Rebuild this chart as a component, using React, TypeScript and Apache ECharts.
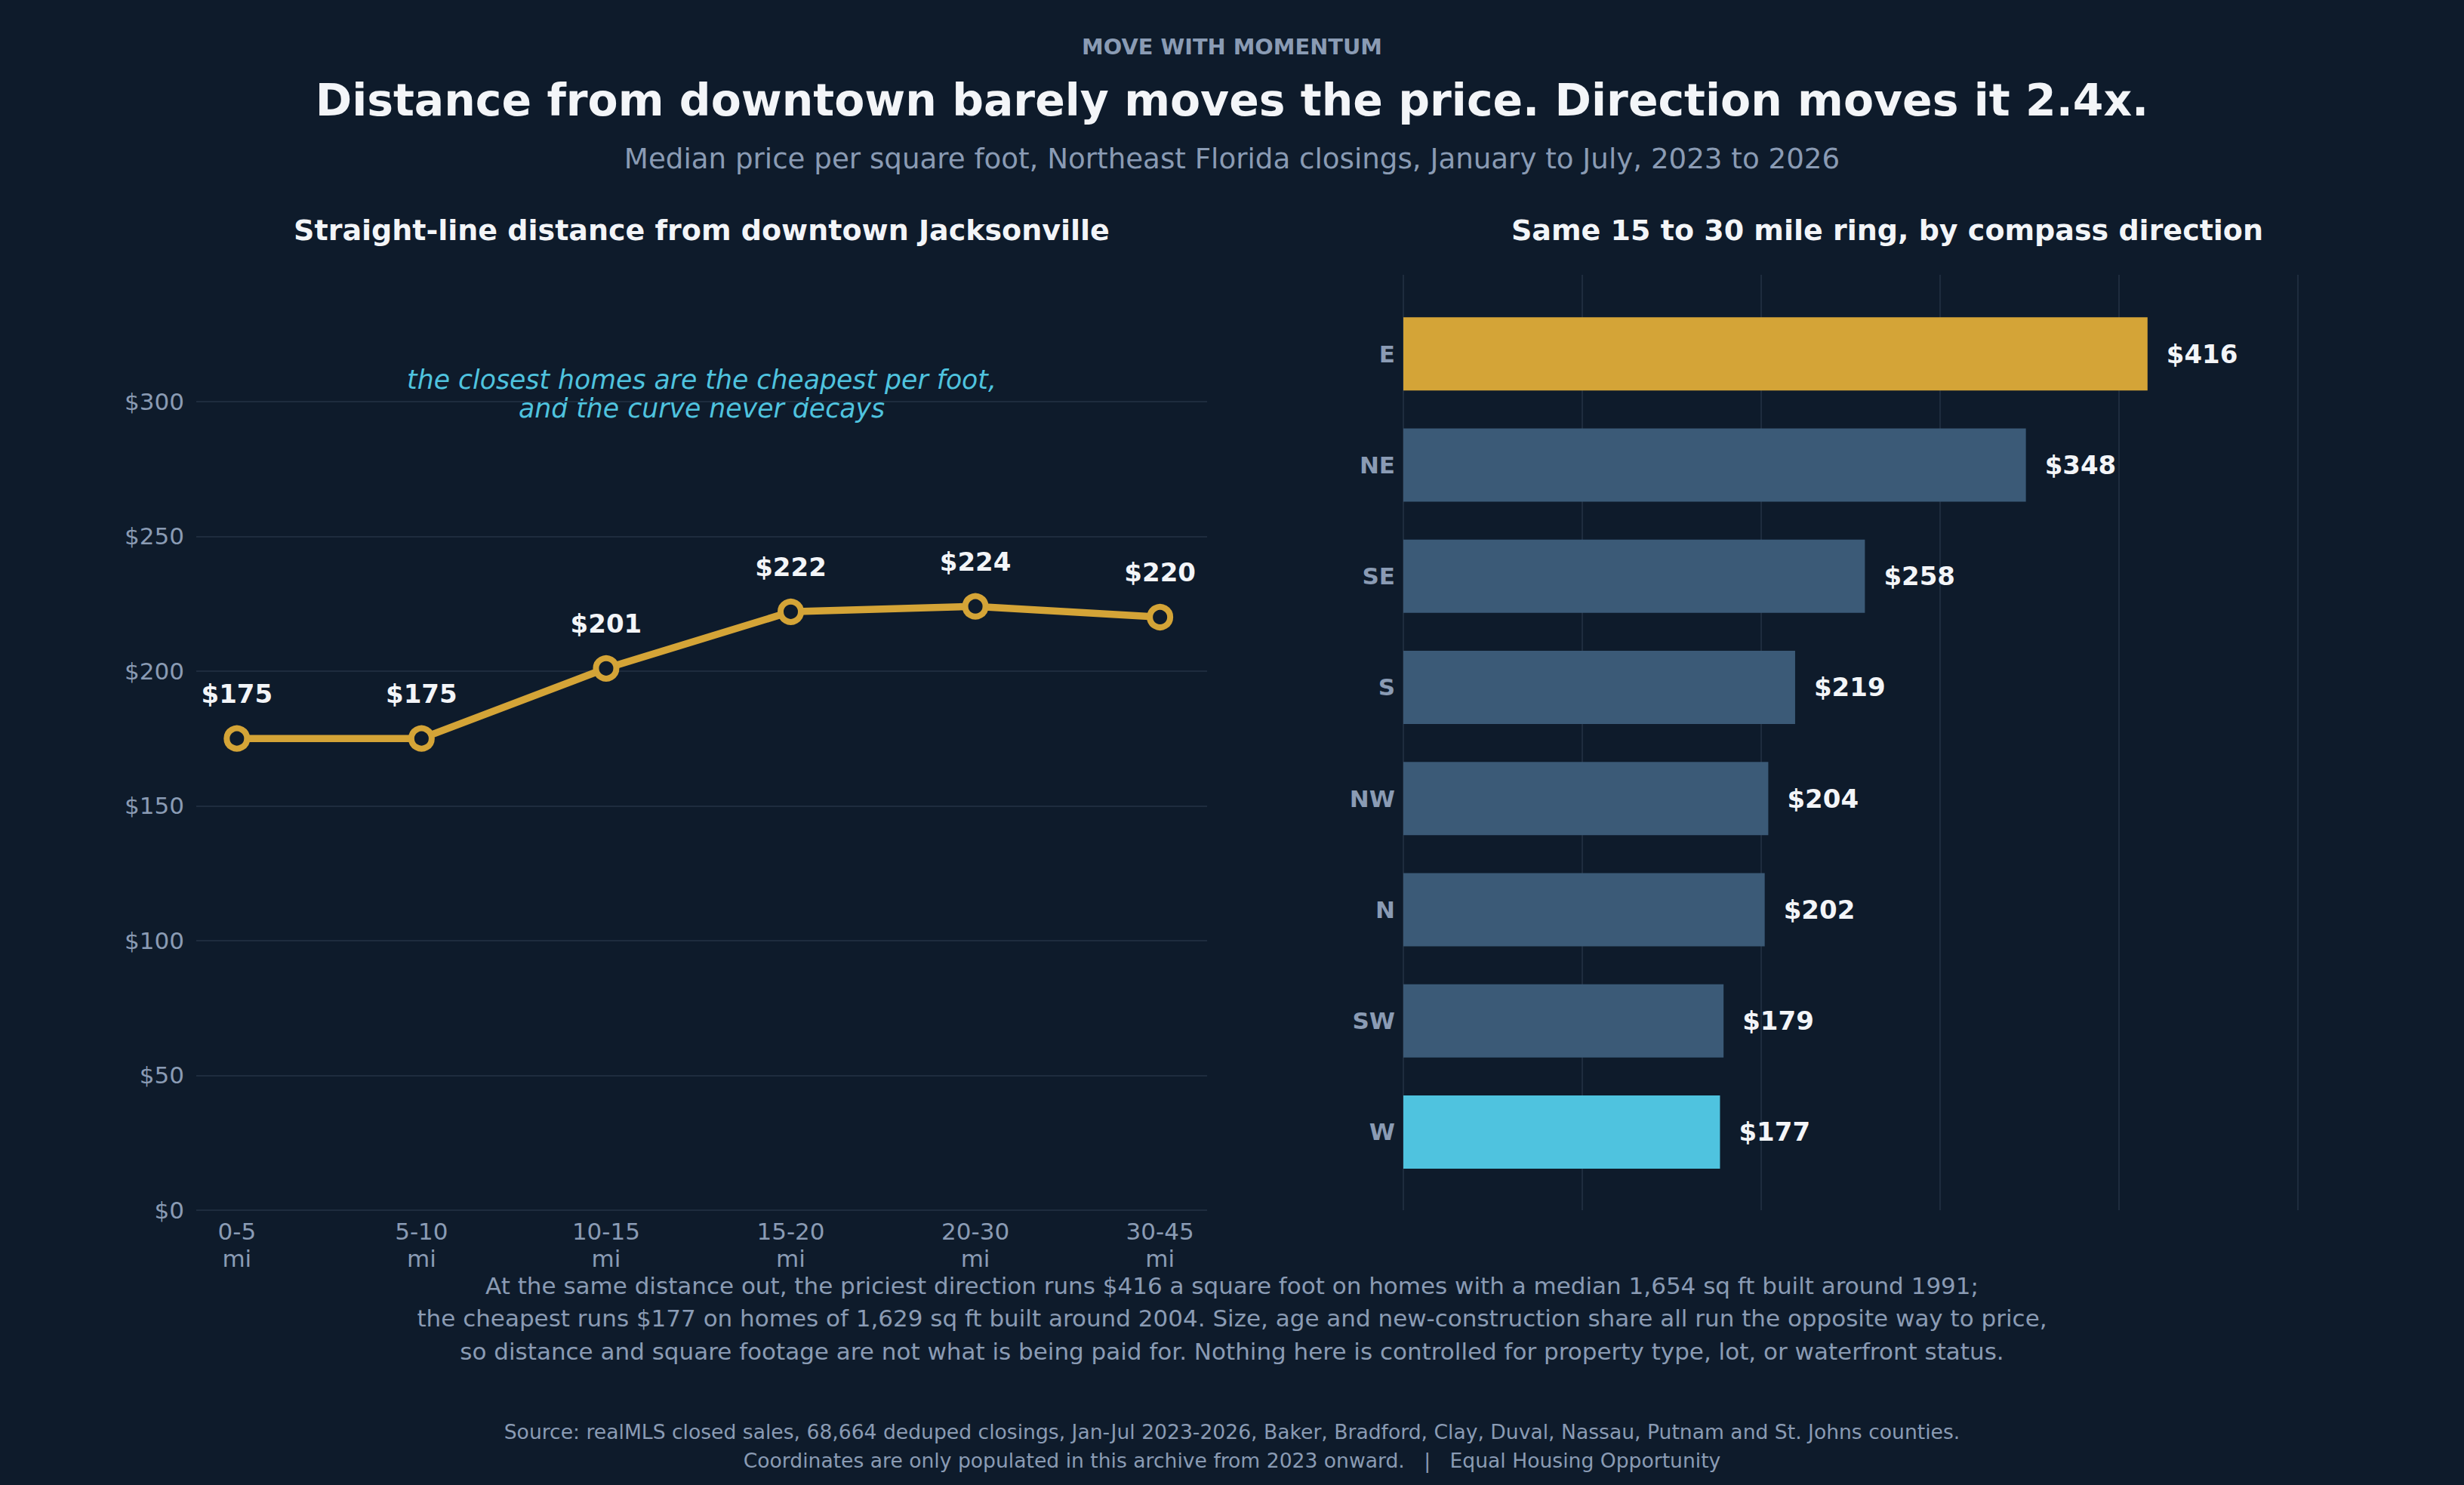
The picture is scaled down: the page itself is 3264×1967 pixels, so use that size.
import React, { useEffect, useRef } from "react";
import * as echarts from "echarts";

const distanceBands = ["0-5\nmi", "5-10\nmi", "10-15\nmi", "15-20\nmi", "20-30\nmi", "30-45\nmi"];
const distancePrices = [175, 175, 201, 222, 224, 220];
const directions = ["E", "NE", "SE", "S", "NW", "N", "SW", "W"];
const directionPrices = [416, 348, 258, 219, 204, 202, 179, 177];
const yTicksLeft = [0, 50, 100, 150, 200, 250, 300];

const BG = "#0e1b2b";
const GOLD = "#d4a437";
const SLATE = "#3b5a77";
const CYAN = "#4fc3df";
const GRAY = "#8a9bb4";
const WHITE = "#f3f5f8";
const GRID = "#1e2c3e";
const FONT = "DejaVu Sans";

const W = 3264;
const H = 1967;

export default function App() {
  const ref = useRef<HTMLDivElement>(null);
  useEffect(() => {
    document.body.style.margin = "0";
    document.body.style.background = BG;
    const chart = echarts.init(ref.current!, null, { renderer: "svg", width: W, height: H });

    const leftL = 260, leftR = 1599, top = 364, bottom = 1603;
    const rightL = 1859, rightR = 3141;
    const barTop = 395, barBottom = 1573;

    const txt = (text: string, x: number, y: number, size: number, color: string, weight = "normal", style = "normal", lh?: number) => ({
      type: "text",
      x,
      y,
      style: {
        text,
        fill: color,
        fontSize: size,
        fontWeight: weight,
        fontStyle: style,
        fontFamily: FONT,
        textAlign: "center",
        textVerticalAlign: "middle",
        lineHeight: lh,
      },
    });

    const option: any = {
      animation: false,
      backgroundColor: BG,
      textStyle: { fontFamily: FONT },
      graphic: [
        txt("MOVE WITH MOMENTUM", 1632, 62, 28.8, GRAY, "bold"),
        txt("Distance from downtown barely moves the price. Direction moves it 2.4x.", 1632, 133, 58.4, WHITE, "bold"),
        txt("Median price per square foot, Northeast Florida closings, January to July, 2023 to 2026", 1632, 210, 37.2, GRAY),
        txt("Straight-line distance from downtown Jacksonville", (leftL + leftR) / 2, 305, 38, WHITE, "bold"),
        txt("Same 15 to 30 mile ring, by compass direction", (rightL + rightR) / 2, 305, 38, WHITE, "bold"),
        txt("the closest homes are the cheapest per foot,\nand the curve never decays", (leftL + leftR) / 2, 522, 34.7, CYAN, "normal", "italic", 38),
        txt(
          "At the same distance out, the priciest direction runs $416 a square foot on homes with a median 1,654 sq ft built around 1991;\nthe cheapest runs $177 on homes of 1,629 sq ft built around 2004. Size, age and new-construction share all run the opposite way to price,\nso distance and square footage are not what is being paid for. Nothing here is controlled for property type, lot, or waterfront status.",
          1632, 1746, 31, GRAY, "normal", "normal", 43.5
        ),
        txt(
          "Source: realMLS closed sales, 68,664 deduped closings, Jan-Jul 2023-2026, Baker, Bradford, Clay, Duval, Nassau, Putnam and St. Johns counties.\nCoordinates are only populated in this archive from 2023 onward.   |   Equal Housing Opportunity",
          1632, 1915, 26.6, GRAY, "normal", "normal", 38
        ),
      ],
      grid: [
        { left: leftL, width: leftR - leftL, top, height: bottom - top },
        { left: rightL, width: rightR - rightL, top, height: bottom - top },
        { left: rightL, width: rightR - rightL, top: barTop, height: barBottom - barTop },
      ],
      xAxis: [
        {
          gridIndex: 0,
          type: "value",
          min: -0.22,
          max: 5.255,
          axisLine: { show: false },
          axisTick: { show: false },
          splitLine: { show: false },
          axisLabel: {
            customValues: [0, 1, 2, 3, 4, 5],
            formatter: (v: number) => distanceBands[Math.round(v)] ?? "",
            color: GRAY,
            fontSize: 31,
            lineHeight: 36,
            margin: 10,
            fontFamily: FONT,
          },
        },
        {
          gridIndex: 1,
          type: "value",
          min: 0,
          max: 541,
          interval: 100,
          axisLine: { show: false },
          axisTick: { show: false },
          axisLabel: { show: false },
          splitLine: { show: true, showMaxLine: false, lineStyle: { color: GRID, width: 2 } },
        },
        {
          gridIndex: 2,
          type: "value",
          min: 0,
          max: 541,
          axisLine: { show: false },
          axisTick: { show: false },
          axisLabel: { show: false },
          splitLine: { show: false },
        },
      ],
      yAxis: [
        {
          gridIndex: 0,
          type: "value",
          min: 0,
          max: 347,
          interval: 50,
          axisLine: { show: false },
          axisTick: { show: false },
          splitLine: { show: true, showMaxLine: false, lineStyle: { color: GRID, width: 2 } },
          axisLabel: {
            formatter: (v: number) => (yTicksLeft.includes(v) ? "$" + v : ""),
            color: GRAY,
            fontSize: 31,
            margin: 16,
            fontFamily: FONT,
          },
        },
        {
          gridIndex: 1,
          type: "value",
          min: 0,
          max: 1,
          show: false,
          splitLine: { show: false },
        },
        {
          gridIndex: 2,
          type: "category",
          inverse: true,
          data: directions,
          axisLine: { show: false },
          axisTick: { show: false },
          splitLine: { show: false },
          axisLabel: {
            color: GRAY,
            fontSize: 31,
            fontWeight: "bold",
            margin: 11,
            fontFamily: FONT,
          },
        },
      ],
      series: [
        {
          type: "line",
          xAxisIndex: 0,
          yAxisIndex: 0,
          data: distancePrices.map((v, i) => [i, v]),
          lineStyle: { color: GOLD, width: 9.5 },
          symbol: "circle",
          symbolSize: 27,
          itemStyle: { color: BG, borderColor: GOLD, borderWidth: 8 },
          label: {
            show: true,
            position: "top",
            distance: 25,
            formatter: (p: any) => "$" + p.value[1],
            color: WHITE,
            fontSize: 34,
            fontWeight: "bold",
            fontFamily: FONT,
          },
          z: 5,
        },
        {
          type: "line",
          xAxisIndex: 1,
          yAxisIndex: 1,
          data: [],
          silent: true,
        },
        {
          type: "bar",
          xAxisIndex: 2,
          yAxisIndex: 2,
          barWidth: 97,
          data: directionPrices.map((v, i) => ({
            value: v,
            itemStyle: { color: i === 0 ? GOLD : i === directionPrices.length - 1 ? CYAN : SLATE },
          })),
          label: {
            show: true,
            position: "right",
            distance: 25,
            formatter: (p: any) => "$" + p.value,
            color: WHITE,
            fontSize: 34,
            fontWeight: "bold",
            fontFamily: FONT,
          },
        },
      ],
    };
    chart.setOption(option);
    return () => chart.dispose();
  }, []);

  return (
    <div
      ref={ref}
      style={{ position: "absolute", left: 0, top: 0, width: W, height: H, background: BG }}
    />
  );
}
